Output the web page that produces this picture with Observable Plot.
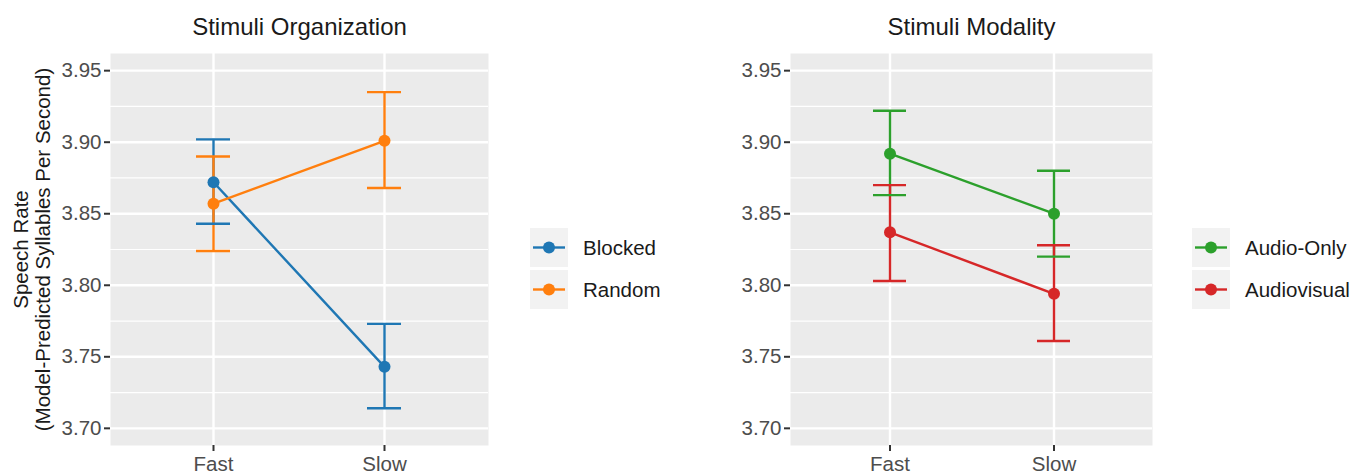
<!DOCTYPE html>
<html>
<head>
<meta charset="utf-8">
<script src="https://cdn.jsdelivr.net/npm/d3@7"></script>
<script src="https://cdn.jsdelivr.net/npm/@observablehq/plot@0.6"></script>
<style>
  html, body { margin: 0; padding: 0; background: #fff; }
  #root { position: relative; width: 1368px; height: 474px; overflow: hidden; font-family: "Liberation Sans", Arial, Helvetica, sans-serif; }
  .panel { position: absolute; top: 0; }
  .legend { position: absolute; }
  .key-row { position: absolute; left: 0; height: 39px; display: flex; align-items: center; }
  .key { width: 38px; height: 39px; background: #F2F2F2; }
  .key-label { margin-left: 15px; font-size: 20.5px; color: #1A1A1A; white-space: nowrap; }
</style>
</head>
<body>
<div id="root"></div>
<script>
// ---- data ----
const timing = ["Fast", "Slow"];

// Panel 1: Stimuli Organization
const orgTitle = "Stimuli Organization";
const orgSeries = ["Blocked", "Random"];
const orgColors = ["#1F77B4", "#FF7F0E"];
const blockedMean = [3.872, 3.743];
const blockedLow  = [3.843, 3.714];
const blockedHigh = [3.902, 3.773];
const randomMean  = [3.857, 3.901];
const randomLow   = [3.824, 3.868];
const randomHigh  = [3.890, 3.935];

// Panel 2: Stimuli Modality
const modTitle = "Stimuli Modality";
const modSeries = ["Audio-Only", "Audiovisual"];
const modColors = ["#2CA02C", "#D62728"];
const audioMean = [3.892, 3.850];
const audioLow  = [3.863, 3.820];
const audioHigh = [3.922, 3.880];
const avMean    = [3.837, 3.794];
const avLow     = [3.803, 3.761];
const avHigh    = [3.870, 3.828];

// axes
const majorTicks = [3.70, 3.75, 3.80, 3.85, 3.90, 3.95];
const minorTicks = [3.725, 3.775, 3.825, 3.875, 3.925];
const yDomain = [3.688, 3.962];
const yLabel = "Speech Rate\n(Model-Predicted Syllables Per Second)";

// ---- build rows ----
function rowsFor(series, means, lows, highs) {
  const rows = [];
  series.forEach((s, si) => {
    timing.forEach((t, ti) => {
      rows.push({s, t, m: means[si][ti], lo: lows[si][ti], hi: highs[si][ti]});
    });
  });
  return rows;
}
const orgRows = rowsFor(orgSeries, [blockedMean, randomMean], [blockedLow, randomLow], [blockedHigh, randomHigh]);
const modRows = rowsFor(modSeries, [audioMean, avMean], [audioLow, avLow], [audioHigh, avHigh]);

const FONT = "Liberation Sans, Arial, Helvetica, sans-serif";
const LW = 2.4;

function panel({rows, series, colors, title, width, marginLeft, marginRight, showYLabel}) {
  const marks = [
    Plot.frame({fill: "#EBEBEB", stroke: null}),
    Plot.ruleY(minorTicks, {stroke: "white", strokeWidth: 1.2}),
    Plot.ruleY(majorTicks, {stroke: "white", strokeWidth: 2.4}),
    Plot.ruleX(timing, {x: d => d, stroke: "white", strokeWidth: 2.4}),
    Plot.axisY(majorTicks, {tickSize: 6, tickPadding: 3, fontSize: 20.5, color: "#4D4D4D", stroke: "#333333", strokeWidth: 2, tickFormat: d3.format(".2f"), label: null}),
    Plot.axisX({tickSize: 6, tickPadding: 5, fontSize: 20.5, color: "#4D4D4D", stroke: "#333333", strokeWidth: 2, label: null}),
    Plot.ruleX(rows, {x: "t", y1: "lo", y2: "hi", stroke: "s", strokeWidth: LW}),
    Plot.tickY(rows, {x: "t", y: "lo", stroke: "s", strokeWidth: LW}),
    Plot.tickY(rows, {x: "t", y: "hi", stroke: "s", strokeWidth: LW}),
    Plot.line(rows, {x: "t", y: "m", z: "s", stroke: "s", strokeWidth: LW}),
    Plot.dot(rows, {x: "t", y: "m", fill: "s", r: 6, stroke: null}),
    Plot.text([title], {frameAnchor: "top", dy: -26, fontSize: 24, fill: "#1A1A1A", lineAnchor: "middle"})
  ];
  if (showYLabel) {
    marks.push(Plot.text([yLabel], {frameAnchor: "left", dx: -79, rotate: -90, fontSize: 20.5, lineHeight: 1.08, fill: "#1A1A1A", lineAnchor: "middle", textAnchor: "middle"}));
  }
  return Plot.plot({
    width, height: 474,
    marginTop: 53, marginBottom: 29, marginLeft, marginRight,
    style: {fontFamily: FONT, background: "transparent", overflow: "visible"},
    x: {type: "band", domain: timing, paddingInner: 0.8, paddingOuter: 0.5, label: null},
    y: {domain: yDomain, label: null},
    color: {domain: series, range: colors},
    marks
  });
}

function legend(series, colors, left, top) {
  const box = document.createElement("div");
  box.className = "legend";
  box.style.left = left + "px";
  box.style.top = top + "px";
  series.forEach((s, i) => {
    const row = document.createElement("div");
    row.className = "key-row";
    row.style.top = (i * 42) + "px";
    const key = document.createElement("div");
    key.className = "key";
    key.innerHTML = `<svg width="38" height="39"><line x1="3" x2="35" y1="19.5" y2="19.5" stroke="${colors[i]}" stroke-width="2.4"/><circle cx="19" cy="19.5" r="6" fill="${colors[i]}"/></svg>`;
    const lab = document.createElement("span");
    lab.className = "key-label";
    lab.textContent = s;
    row.appendChild(key);
    row.appendChild(lab);
    box.appendChild(row);
  });
  return box;
}

const root = document.getElementById("root");

const p1 = panel({rows: orgRows, series: orgSeries, colors: orgColors, title: orgTitle, width: 520, marginLeft: 110, marginRight: 32, showYLabel: true});
p1.classList.add("panel");
p1.style.left = "0px";
root.appendChild(p1);

const p2 = panel({rows: modRows, series: modSeries, colors: modColors, title: modTitle, width: 500, marginLeft: 110, marginRight: 28, showYLabel: false});
p2.classList.add("panel");
p2.style.left = "680px";
root.appendChild(p2);

root.appendChild(legend(orgSeries, orgColors, 530, 228));
root.appendChild(legend(modSeries, modColors, 1192, 228));
</script>
</body>
</html>
